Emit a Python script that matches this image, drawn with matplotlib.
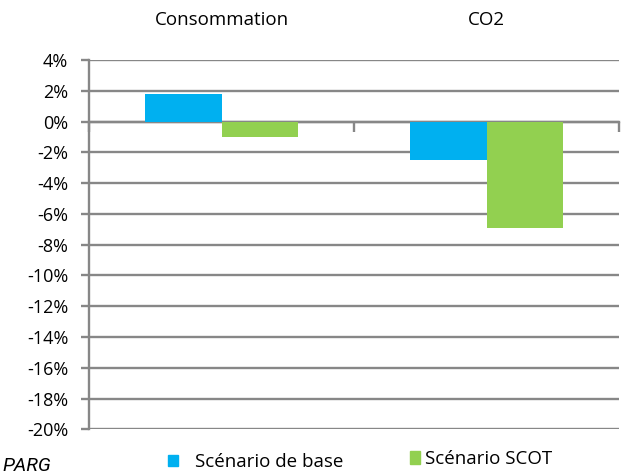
# Variation en % de la consommation et des émissions de CO2 selon le scénario

import numpy as np
import matplotlib.pyplot as plt
from matplotlib.patches import Patch
from matplotlib.ticker import FixedLocator

plt.rcParams['font.family'] = ['Open Sans', 'DejaVu Sans']

categories = ["Consommation", "CO2"]
series_names = ["Scénario de base", "Scénario SCOT"]
base_values = [1.8, -2.5]
scot_values = [-1.0, -6.9]
colors = ["#00B0F0", "#92D050"]
y_ticks = list(range(-20, 5, 2))

grid_color = "#878787"

fig = plt.figure(figsize=(6.21, 4.74), dpi=100)
ax = fig.add_axes([89 / 621, 1 - 429.3 / 474, 530 / 621, 369.3 / 474])

x = np.arange(len(categories))
width = 0.287
ax.bar(x - width / 2, base_values, width, color=colors[0], zorder=3)
ax.bar(x + width / 2, scot_values, width, color=colors[1], zorder=3)

ax.set_xlim(-0.5, len(categories) - 0.5)
ax.set_ylim(y_ticks[0], y_ticks[-1])

# horizontal gridlines + y axis
ax.set_yticks(y_ticks)
ax.set_yticklabels([f"{v}%" for v in y_ticks], fontsize=13)
ax.grid(axis='y', color=grid_color, linewidth=1.7, zorder=1)
ax.tick_params(axis='y', length=6, width=1.7, color=grid_color, pad=9)

for side in ["top", "right"]:
    ax.spines[side].set_visible(False)
ax.spines["left"].set_color(grid_color)
ax.spines["left"].set_linewidth(1.7)

# category axis sits on the 0% line, labels on top
ax.spines["bottom"].set_position(("data", 0))
ax.spines["bottom"].set_color(grid_color)
ax.spines["bottom"].set_linewidth(1.7)
ax.spines["bottom"].set_zorder(2)
ax.set_xticks(x)
ax.set_xticklabels(categories, fontsize=13.5)
ax.xaxis.set_minor_locator(FixedLocator(np.arange(len(categories) + 1) - 0.5))
ax.tick_params(axis='x', which='major', bottom=False, top=False,
               labelbottom=False, labeltop=True, pad=19)
ax.tick_params(axis='x', which='minor', bottom=True, top=False,
               direction='out', length=7, width=1.7, color=grid_color)

# legend, one entry per block
fig.legend(handles=[Patch(color=colors[0], label=series_names[0])],
           loc='center left', bbox_to_anchor=(168 / 621, 1 - 462 / 474),
           frameon=False, fontsize=13.5, borderpad=0, borderaxespad=0,
           handlelength=0.55, handleheight=0.55, handletextpad=0.9)
fig.legend(handles=[Patch(color=colors[1], label=series_names[1])],
           loc='center left', bbox_to_anchor=(410 / 621, 1 - 459 / 474),
           frameon=False, fontsize=13.5, borderpad=0, borderaxespad=0,
           handlelength=0.55, handleheight=0.65, handletextpad=0.27)

fig.text(2 / 621, 1 - 471 / 474, "PARG", fontsize=14, style='italic',
         family=['Roboto', 'DejaVu Sans'], ha='left', va='baseline')

fig.savefig("out.png", dpi=100)
